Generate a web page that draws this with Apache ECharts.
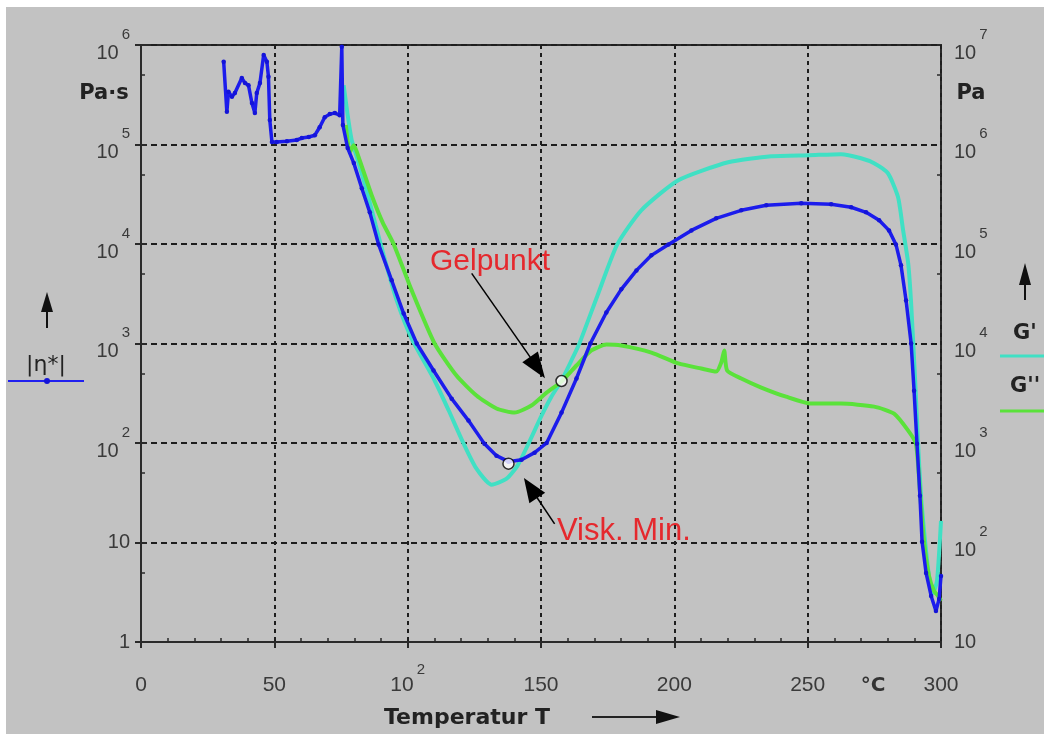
<!DOCTYPE html>
<html><head><meta charset="utf-8">
<script src="https://cdn.jsdelivr.net/npm/echarts@6/dist/echarts.min.js"></script>
<style>html,body{margin:0;padding:0;background:#fff}#c{width:1044px;height:734px}</style>
</head><body><div id="c"></div>
<script>
// ---- data (temperature °C, value) ----
const etaStar = [[31.0,6.8e5],[32.2,2.13e5],[32.8,3.39e5],[34.1,3.02e5],[35.2,3.29e5],[37.8,4.66e5],[39.0,4.14e5],[40.3,3.95e5],[41.6,2.61e5],[42.7,2.07e5],[43.4,3.29e5],[44.6,4.14e5],[46.0,7.93e5],[47.2,6.8e5],[47.8,4.8e5],[48.3,1.76e5],[49.1,1.06e5],[50.9,1.06e5],[54.7,1.08e5],[58.4,1.11e5],[60.3,1.16e5],[62.9,1.19e5],[65.2,1.24e5],[67.0,1.49e5],[68.9,1.88e5],[70.8,2.02e5],[72.7,2.07e5],[74.5,1.97e5],[75.3,9.6e5],[75.7,1.57e5],[77.5,9.2e4],[79.8,6.5e4],[82.8,3.63e4],[85.8,2.08e4],[89.1,9.9e3],[94.0,4.31e3],[98.5,2.0e3],[103.4,1.0e3],[109.7,535],[116.5,279],[122.8,168],[128.8,98],[133.3,74.6],[137.8,64.9],[142.7,67.9],[147.6,80],[152.1,100],[157.7,202],[163.3,445],[168.5,1000],[174.5,2050],[180.1,3500],[185.8,5430],[191.4,7690],[197.8,9900],[206.4,1.37e4],[215.7,1.81e4],[225.1,2.18e4],[234.5,2.45e4],[247.6,2.57e4],[258.8,2.51e4],[266.3,2.34e4],[271.9,2.08e4],[276.8,1.73e4],[280.5,1.37e4],[283.1,9.9e3],[285.0,6.1e3],[286.9,2.71e3],[288.8,1.0e3],[289.9,336],[291.0,98],[292.1,29.5],[292.9,10.2],[294.4,4.95],[296.3,2.9],[298.1,2.05],[299.3,2.71],[300,4.61]];
const gPrime = [[76.0,3.95e6],[77.5,1.97e6],[79.0,1.11e6],[81.3,6.95e5],[84.6,3.47e5],[88.0,1.54e5],[91.0,7.69e4],[95.9,2.71e4],[101.5,1.12e4],[110.1,4250],[115.4,2120],[121.0,984],[125.8,552],[131.5,381],[137.1,438],[141.2,592],[145.3,984],[150.2,1880],[153.9,2920],[157.7,4250],[161.4,6740],[164.4,1.0e4],[171.2,3.04e4],[178.6,9.9e4],[187.6,2.18e5],[201.5,4.38e5],[220.2,6.64e5],[236.3,7.63e5],[250.6,7.81e5],[262.5,8.0e5],[270.0,7.28e5],[274.9,6.49e5],[280.1,5.14e5],[283.9,2.95e5],[285.8,1.37e5],[287.7,6.38e4],[288.8,2.53e4],[290.3,4250],[291.4,984],[292.5,295],[294.0,104],[295.5,46],[297.0,31],[298.5,41],[300,165]];
const gDouble = [[76.8,1.57e6],[78.3,8.38e5],[79.8,9.84e5],[82.0,6.95e5],[86.5,3.09e5],[90.6,1.65e5],[94.8,9.9e4],[101.5,3.42e4],[110.1,1.0e4],[118.3,4760],[125.8,3000],[133.3,2220],[140.1,2020],[146.4,2380],[152.1,3210],[157.7,4140],[163.3,6010],[168.9,8510],[174.5,9770],[180.1,9550],[191.4,8110],[201.5,6300],[210.1,5600],[215.7,5220],[217.6,6440],[218.7,8510],[219.8,5350],[225.1,4450],[232.6,3610],[241.9,2920],[251.3,2490],[262.5,2490],[274.9,2320],[282.4,1970],[287.7,1330],[290.6,984],[292.1,331],[293.6,104],[295.5,46],[297.4,32.6],[298.9,29],[300,25.9]];
const viskMin = [[137.8,62]];
const gelPunkt = [[157.7,4200]];
const viskArrow = [[155.1,15.4],[146.1,35.3]];
const gelArrow = [[124.0,5.07e4],[148.7,5.73e3]];
// ---- tick labels ----
const xTickText = ['0','50','10^2','150','200','250','300'];
const leftTickText = ['1','10','10^2','10^3','10^4','10^5','10^6'];
const rightTickText = ['10','10^2','10^3','10^4','10^5','10^6','10^7'];
const xMinorTicks = [10,20,30,40,60,70,80,90,110,120,130,140,160,170,180,190,210,220,230,240,260,270,280,290];
const leftMinorTicks = [5,50,500,5000,50000,500000];
const rightMinorTicks = [50,500,5000,50000,500000,5000000];

const FONT = '"Liberation Sans", Arial, sans-serif';
const BFONT = '"DejaVu Sans", sans-serif';
const TXT = '#3a3a3a';
function rich(t){ const p=t.split('^'); return p.length>1 ? '{b|'+p[0]+'}{s|'+p[1]+'}' : '{n|'+t+'}'; }
const richY = {
  b:{fontSize:20,fontFamily:FONT,color:TXT,verticalAlign:'bottom'},
  s:{fontSize:15,fontFamily:FONT,color:TXT,verticalAlign:'top',padding:[0,0,0,3]},
  n:{fontSize:20,fontFamily:FONT,color:TXT}
};
const richX = {
  b:{fontSize:21,fontFamily:FONT,color:TXT,verticalAlign:'bottom'},
  s:{fontSize:15,fontFamily:FONT,color:TXT,verticalAlign:'top',padding:[0,0,0,3]},
  n:{fontSize:21,fontFamily:FONT,color:TXT,verticalAlign:'bottom'}
};
const AX = '#2a2a2a';
const gridDashH = {type:[6,4],color:'#1e1e1e',width:2};
const gridDashV = {type:[4,4],color:'#1e1e1e',width:2};

const chart = echarts.init(document.getElementById('c'));
const option = {
  animation:false,
  backgroundColor:'#c2c2c2',
  grid:{left:141,right:103,top:45,bottom:92,show:true,borderColor:AX,borderWidth:2,backgroundColor:'transparent'},
  xAxis:[
    {type:'value',min:0,max:300,interval:50,
     axisLine:{lineStyle:{color:AX,width:2}},
     axisTick:{inside:false,length:6,lineStyle:{color:AX,width:2}},
     splitLine:{show:true,lineStyle:gridDashV},
     axisLabel:{margin:20,lineHeight:34,rich:richX,formatter:v=>rich(xTickText[Math.round(v/50)])}},
    {type:'value',min:0,max:300,position:'bottom',
     axisLine:{show:false},axisLabel:{show:false},splitLine:{show:false},
     axisTick:{show:true,inside:true,length:4,customValues:xMinorTicks,lineStyle:{color:AX,width:1.5}}}
  ],
  yAxis:[
    {type:'log',logBase:10,min:1,max:1e6,position:'left',splitNumber:6,
     axisLine:{show:true,lineStyle:{color:AX,width:2}},
     axisTick:{show:true,inside:false,length:6,lineStyle:{color:AX,width:2}},
     splitLine:{show:true,lineStyle:gridDashH},
     axisLabel:{margin:11,lineHeight:36,rich:richY,formatter:v=>rich(leftTickText[Math.round(Math.log10(v))])}},
    {type:'log',logBase:10,min:10,max:1e7,position:'right',splitNumber:6,
     axisLine:{show:true,lineStyle:{color:AX,width:2}},
     axisTick:{show:true,inside:false,length:6,lineStyle:{color:AX,width:2}},
     splitLine:{show:false},
     axisLabel:{margin:13,lineHeight:36,rich:richY,formatter:v=>rich(rightTickText[Math.round(Math.log10(v))-1])}},
    {type:'log',logBase:10,min:1,max:1e6,position:'left',
     axisLine:{show:false},axisLabel:{show:false},splitLine:{show:false},
     axisTick:{show:true,inside:true,length:4,customValues:leftMinorTicks,lineStyle:{color:AX,width:1.5}}},
    {type:'log',logBase:10,min:10,max:1e7,position:'right',
     axisLine:{show:false},axisLabel:{show:false},splitLine:{show:false},
     axisTick:{show:true,inside:true,length:4,customValues:rightMinorTicks,lineStyle:{color:AX,width:1.5}}}
  ],
  series:[
    {name:"G'",type:'line',yAxisIndex:1,data:gPrime,showSymbol:false,smooth:0.2,z:2,
     lineStyle:{color:'#40e0c4',width:4}},
    {name:"G''",type:'line',yAxisIndex:1,data:gDouble,showSymbol:false,smooth:0.2,z:3,
     lineStyle:{color:'#5ae23a',width:4}},
    {name:'|η*|',type:'line',yAxisIndex:0,data:etaStar,symbol:'circle',symbolSize:4.5,z:4,
     itemStyle:{color:'#1414d8'},lineStyle:{color:'#1c1cec',width:3.5}},
    {name:'Visk. Min.',type:'scatter',yAxisIndex:0,data:viskMin,symbol:'circle',symbolSize:11,z:6,
     itemStyle:{color:'#fff',borderColor:'#000',borderWidth:1.5},
     markLine:{silent:true,symbol:['none','triangle'],symbolSize:[19,24],label:{show:false},
       lineStyle:{color:'#000',width:1.5,type:'solid'},itemStyle:{color:'#000'},
       data:[[{coord:viskArrow[0]},{coord:viskArrow[1]}]]}},
    {name:'Gelpunkt',type:'scatter',yAxisIndex:1,data:gelPunkt,symbol:'circle',symbolSize:11,z:6,
     itemStyle:{color:'#fff',borderColor:'#000',borderWidth:1.5},
     markLine:{silent:true,symbol:['none','triangle'],symbolSize:[19,26],label:{show:false},
       lineStyle:{color:'#000',width:1.5,type:'solid'},itemStyle:{color:'#000'},
       data:[[{coord:gelArrow[0]},{coord:gelArrow[1]}]]}}
  ],
  graphic:[
    {type:'rect',silent:true,shape:{x:0,y:0,width:1044,height:7},style:{fill:'#fff'}},
    {type:'rect',silent:true,shape:{x:0,y:0,width:6,height:734},style:{fill:'#fff'}},
    // left legend
    {type:'polygon',shape:{points:[[41,312],[47,292],[53,312]]},style:{fill:'#111'}},
    {type:'line',shape:{x1:47,y1:308,x2:47,y2:328},style:{stroke:'#111',lineWidth:2}},
    {type:'text',style:{text:'|η*|',x:46,y:365,font:'22px '+BFONT,fill:'#222',align:'center',verticalAlign:'middle',textAlign:'center',textVerticalAlign:'middle'}},
    {type:'line',shape:{x1:8,y1:381,x2:84,y2:381},style:{stroke:'#2020f0',lineWidth:2}},
    {type:'circle',shape:{cx:47,cy:381,r:3},style:{fill:'#1414d8'}},
    // right legend
    {type:'polygon',shape:{points:[[1019,285],[1025,263],[1031,285]]},style:{fill:'#111'}},
    {type:'line',shape:{x1:1025,y1:281,x2:1025,y2:300},style:{stroke:'#111',lineWidth:2}},
    {type:'text',style:{text:"G'",x:1013,y:334,font:'bold 21px '+BFONT,fill:'#222',align:'left',verticalAlign:'middle',textAlign:'left',textVerticalAlign:'middle'}},
    {type:'line',shape:{x1:1000,y1:356,x2:1044,y2:356},style:{stroke:'#40e0c4',lineWidth:3}},
    {type:'text',style:{text:"G''",x:1010,y:387,font:'bold 21px '+BFONT,fill:'#222',align:'left',verticalAlign:'middle',textAlign:'left',textVerticalAlign:'middle'}},
    {type:'line',shape:{x1:1000,y1:411,x2:1044,y2:411},style:{stroke:'#5ae23a',lineWidth:3}},
    // units
    {type:'text',style:{text:'Pa·s',x:104,y:94,font:'bold 21px '+BFONT,fill:'#222',align:'center',verticalAlign:'middle',textAlign:'center',textVerticalAlign:'middle'}},
    {type:'text',style:{text:'Pa',x:971,y:94,font:'bold 21px '+BFONT,fill:'#222',align:'center',verticalAlign:'middle',textAlign:'center',textVerticalAlign:'middle'}},
    {type:'text',style:{text:'°C',x:873,y:686,font:'bold 20px '+BFONT,fill:'#333',align:'center',verticalAlign:'middle',textAlign:'center',textVerticalAlign:'middle'}},
    {type:'text',style:{text:'Temperatur T',x:467,y:718,font:'bold 22px '+BFONT,fill:'#222',align:'center',verticalAlign:'middle',textAlign:'center',textVerticalAlign:'middle'}},
    {type:'line',shape:{x1:592,y1:717,x2:662,y2:717},style:{stroke:'#222',lineWidth:2}},
    {type:'polygon',shape:{points:[[656,710],[680,717],[656,724]]},style:{fill:'#111'}},
    // annotations
    {type:'text',style:{text:'Gelpunkt',x:430,y:262,font:'30px '+FONT,fill:'#e5282d',align:'left',verticalAlign:'middle',textAlign:'left',textVerticalAlign:'middle'}},
    {type:'text',style:{text:'Visk. Min.',x:557,y:531,font:'31px '+FONT,fill:'#e5282d',align:'left',verticalAlign:'middle',textAlign:'left',textVerticalAlign:'middle'}}
  ]
};
chart.setOption(option);
</script></body></html>
